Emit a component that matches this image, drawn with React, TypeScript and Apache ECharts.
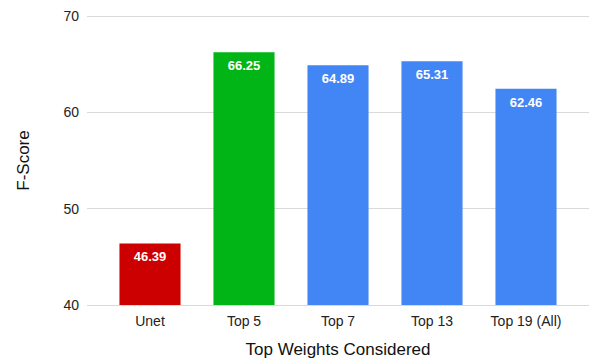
import React, { useEffect, useRef } from "react";
import * as echarts from "echarts";

const categories = ["Unet", "Top 5", "Top 7", "Top 13", "Top 19 (All)"];
const values = [46.39, 66.25, 64.89, 65.31, 62.46];
const colors = ["#cc0000", "#00b515", "#4285f4", "#4285f4", "#4285f4"];
const yTicks = { min: 40, max: 70, interval: 10 };

export default function App() {
  const ref = useRef<HTMLDivElement>(null);
  useEffect(() => {
    const chart = echarts.init(ref.current!, null, { renderer: "svg" });
    const font = "Arial, 'Liberation Sans', sans-serif";
    chart.setOption({
      animation: false,
      textStyle: { fontFamily: font },
      grid: [
        { left: 87, right: 1, top: 16, bottom: 53, containLabel: false, outerBoundsMode: "none" },
        { left: 103, right: 17, top: 16, bottom: 53, containLabel: false, outerBoundsMode: "none" },
      ],
      xAxis: [
        { gridIndex: 0, type: "value", show: false, min: 0, max: 1 },
        {
          gridIndex: 1,
          type: "category",
          data: categories,
          axisLine: { show: false },
          axisTick: { show: false },
          axisLabel: { color: "#222", fontSize: 14, margin: 9, fontFamily: font },
          name: "Top Weights Considered",
          nameLocation: "middle",
          nameGap: 36,
          nameTextStyle: { color: "#111", fontSize: 17, fontFamily: font },
        },
      ],
      yAxis: [
        {
          gridIndex: 0,
          type: "value",
          min: yTicks.min,
          max: yTicks.max,
          interval: yTicks.interval,
          axisLine: { show: false },
          axisTick: { show: false },
          axisLabel: { color: "#222", fontSize: 14, margin: 8, fontFamily: font },
          splitLine: { lineStyle: { color: "#d9d9d9", width: 1 } },
          name: "F-Score",
          nameLocation: "middle",
          nameGap: 55,
          nameTextStyle: { color: "#111", fontSize: 17, fontFamily: font },
        },
        {
          gridIndex: 1,
          type: "value",
          min: yTicks.min,
          max: yTicks.max,
          interval: yTicks.interval,
          show: false,
          splitLine: { show: false },
        },
      ],
      series: [
        {
          type: "bar",
          xAxisIndex: 1,
          yAxisIndex: 1,
          barWidth: "65%",
          data: values.map((v, i) => ({ value: v, itemStyle: { color: colors[i] } })),
          label: {
            show: true,
            position: "insideTop",
            distance: 7,
            color: "#fff",
            fontWeight: "bold",
            fontSize: 13,
            fontFamily: font,
            formatter: (p: any) => p.value.toFixed(2),
          },
        },
      ],
    });
    return () => chart.dispose();
  }, []);
  return <div ref={ref} style={{ width: 590, height: 358, position: "absolute", left: 0, top: 0 }} />;
}
